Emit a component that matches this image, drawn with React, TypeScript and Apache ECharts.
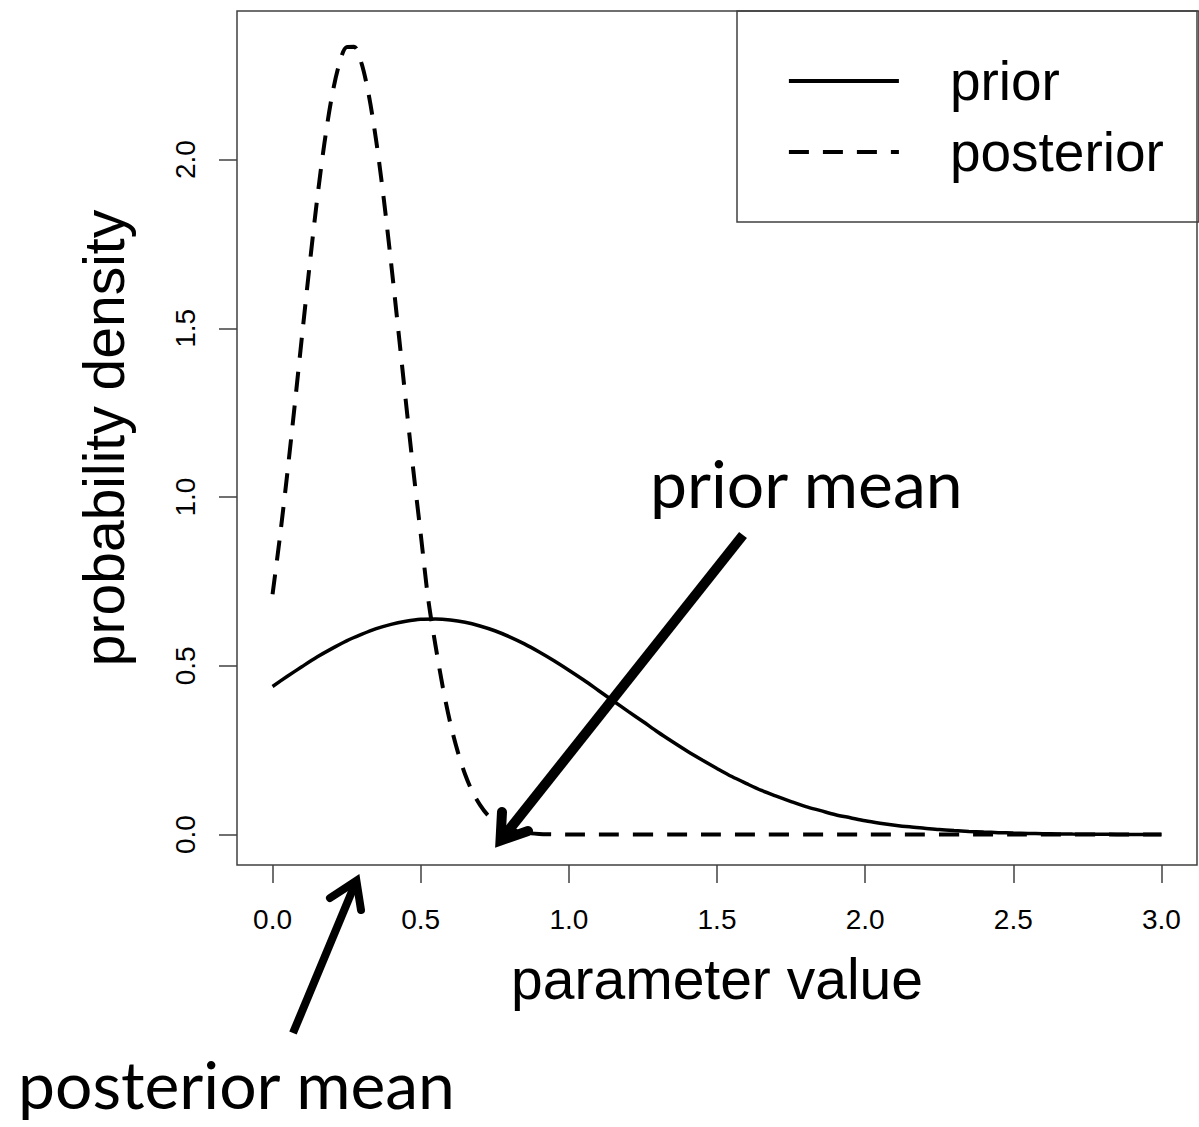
import React, { useEffect, useRef } from "react";
import * as echarts from "echarts";

// ---- data ----
const priorX = [
  0, 0.05, 0.1, 0.15, 0.2, 0.25, 0.3, 0.35, 0.4, 0.45, 0.5, 0.55, 0.6, 0.65, 0.7, 0.75, 0.8, 0.85, 0.9, 0.95,
  1.0, 1.05, 1.1, 1.15, 1.2, 1.25, 1.3, 1.35, 1.4, 1.45, 1.5, 1.55, 1.6, 1.65, 1.7, 1.75, 1.8, 1.85, 1.9, 1.95,
  2.0, 2.05, 2.1, 2.15, 2.2, 2.25, 2.3, 2.35, 2.4, 2.45, 2.5, 2.55, 2.6, 2.65, 2.7, 2.75, 2.8, 2.85, 2.9, 2.95, 3.0,
];
const priorDensity = [
  0.439, 0.469, 0.498, 0.526, 0.551, 0.574, 0.593, 0.61, 0.623, 0.632, 0.638, 0.639, 0.636, 0.629, 0.618, 0.604,
  0.586, 0.565, 0.541, 0.515, 0.487, 0.458, 0.427, 0.396, 0.365, 0.335, 0.304, 0.275, 0.247, 0.221, 0.196, 0.172,
  0.151, 0.131, 0.114, 0.098, 0.083, 0.071, 0.059, 0.05, 0.041, 0.034, 0.028, 0.023, 0.019, 0.015, 0.012, 0.0095,
  0.0075, 0.0059, 0.0046, 0.0036, 0.0027, 0.0021, 0.0016, 0.0012, 0.0009, 0.0007, 0.0005, 0.0004, 0.0003,
];
const posteriorX = [
  0, 0.025, 0.05, 0.075, 0.1, 0.125, 0.15, 0.175, 0.2, 0.225, 0.25, 0.275, 0.3, 0.325, 0.35, 0.375, 0.4, 0.425,
  0.45, 0.475, 0.5, 0.525, 0.55, 0.575, 0.6, 0.625, 0.65, 0.675, 0.7, 0.725, 0.75, 0.775, 0.8, 0.85, 0.9, 0.95,
  1.0, 1.5, 2.0, 2.5, 3.0,
];
const posteriorDensity = [
  0.712, 0.883, 1.072, 1.274, 1.482, 1.686, 1.879, 2.048, 2.186, 2.283, 2.333, 2.334, 2.286, 2.19, 2.054, 1.886,
  1.694, 1.49, 1.282, 1.08, 0.891, 0.7, 0.56, 0.435, 0.33, 0.246, 0.178, 0.126, 0.088, 0.059, 0.04, 0.026, 0.016,
  0.006, 0.002, 0.001, 0, 0, 0, 0, 0,
];
const xTicks = [0, 0.5, 1.0, 1.5, 2.0, 2.5, 3.0];
const yTicks = [0, 0.5, 1.0, 1.5, 2.0];
const seriesNames = ["prior", "posterior"];
const xTitle = "parameter value";
const yTitle = "probability density";
const priorMeanLabel = "prior mean";
const posteriorMeanLabel = "posterior mean";

const R_FONT = "'Liberation Sans', Arial, sans-serif";
const NOTE_FONT = "Lato, 'Open Sans', sans-serif";
const BOX = "#404040";

export default function App() {
  const ref = useRef<HTMLDivElement>(null);

  useEffect(() => {
    if (!ref.current) return;
    const chart = echarts.init(ref.current, undefined, { renderer: "svg" });

    const priorData = priorX.map((x, i) => [x, priorDensity[i]]);
    const posteriorData = posteriorX.map((x, i) => [x, posteriorDensity[i]]);

    const arrow = (
      tail: number[],
      vertex: number[],
      w1: number[],
      w2: number[],
      width: number
    ) => [
      {
        type: "line",
        shape: { x1: tail[0], y1: tail[1], x2: vertex[0], y2: vertex[1] },
        style: { stroke: "#000", lineWidth: width, lineCap: "butt" },
        z: 100,
      },
      {
        type: "polyline",
        shape: { points: [w1, vertex, w2] },
        style: { stroke: "#000", lineWidth: width, lineCap: "round", lineJoin: "miter", fill: null },
        z: 100,
      },
    ];

    chart.setOption({
      animation: false,
      backgroundColor: "#ffffff",
      grid: {
        left: 237,
        right: 2,
        top: 11,
        bottom: 262,
        show: true,
        borderColor: BOX,
        borderWidth: 1.5,
        backgroundColor: "transparent",
      },
      legend: {
        data: seriesNames,
        orient: "vertical",
        left: 737,
        top: 11,
        selectedMode: false,
        borderColor: BOX,
        borderWidth: 1.5,
        borderRadius: 0,
        padding: [40, 35, 40, 50],
        itemWidth: 110,
        itemHeight: 14,
        itemGap: 11,
        itemStyle: { opacity: 0 },
        lineStyle: { width: 3.8 },
        textStyle: {
          fontFamily: R_FONT,
          fontSize: 55,
          color: "#000",
          lineHeight: 60,
          padding: [0, 0, 0, 46],
        },
      },
      xAxis: {
        type: "value",
        min: -0.12,
        max: 3.12,
        name: xTitle,
        nameLocation: "middle",
        nameGap: 85,
        nameTextStyle: { fontFamily: R_FONT, fontSize: 57, color: "#000" },
        axisLine: { show: false, onZero: false },
        splitLine: { show: false },
        axisTick: {
          show: true,
          length: 18,
          customValues: xTicks,
          lineStyle: { color: BOX, width: 1.5 },
        },
        axisLabel: {
          customValues: xTicks,
          formatter: (v: number) => v.toFixed(1),
          fontFamily: R_FONT,
          fontSize: 28,
          color: "#000",
          margin: 40,
        },
      },
      yAxis: {
        type: "value",
        min: -0.09,
        max: 2.44,
        name: yTitle,
        nameLocation: "middle",
        nameRotate: 90,
        nameGap: 105,
        nameTextStyle: { fontFamily: R_FONT, fontSize: 57, color: "#000" },
        axisLine: { show: false, onZero: false },
        splitLine: { show: false },
        axisTick: {
          show: true,
          length: 18,
          customValues: yTicks,
          lineStyle: { color: BOX, width: 1.5 },
        },
        axisLabel: {
          customValues: yTicks,
          formatter: (v: number) => v.toFixed(1),
          rotate: 90,
          fontFamily: R_FONT,
          fontSize: 28,
          color: "#000",
          margin: 38,
        },
      },
      series: [
        {
          name: seriesNames[0],
          type: "line",
          data: priorData,
          symbol: "none",
          smooth: 0.3,
          color: "#000",
          lineStyle: { color: "#000", width: 3.5, type: "solid" },
        },
        {
          name: seriesNames[1],
          type: "line",
          data: posteriorData,
          symbol: "none",
          smooth: 0.3,
          color: "#000",
          lineStyle: { color: "#000", width: 4, type: [20, 14] },
        },
      ],
      graphic: [
        {
          type: "text",
          left: 650,
          top: 449,
          z: 100,
          style: {
            text: priorMeanLabel,
            fontFamily: NOTE_FONT,
            fontSize: 66,
            fill: "#000",
          },
        },
        {
          type: "text",
          left: 18,
          top: 1050,
          z: 100,
          style: {
            text: posteriorMeanLabel,
            fontFamily: NOTE_FONT,
            fontSize: 66,
            fill: "#000",
          },
        },
        ...arrow([743, 535], [500.5, 840.6], [502, 812], [528, 831], 10),
        ...arrow([293, 1033], [356.4, 880.8], [330, 898], [361, 910], 8),
      ],
    });

    return () => chart.dispose();
  }, []);

  return (
    <div
      ref={ref}
      style={{ position: "fixed", left: 0, top: 0, width: 1199, height: 1127, background: "#fff" }}
    />
  );
}
